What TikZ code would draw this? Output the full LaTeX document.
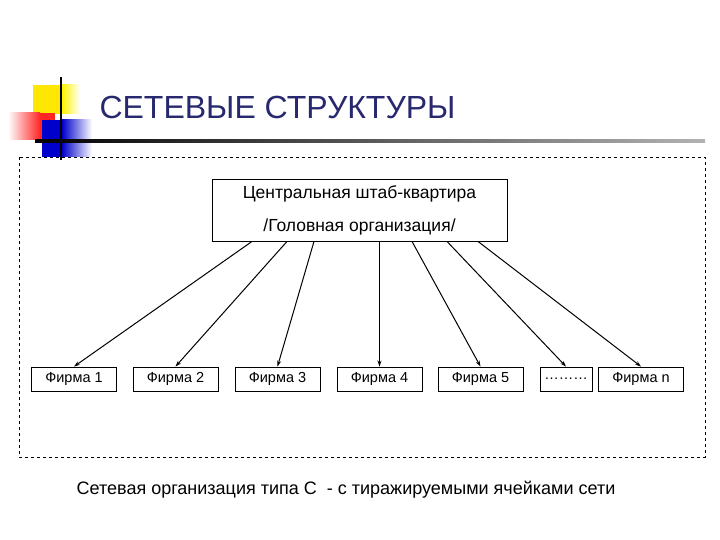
\documentclass[tikz,border=0pt]{standalone}
\usepackage{fontspec}
\setmainfont{Liberation Sans}
\usetikzlibrary{arrows.meta}
\definecolor{navy}{RGB}{40,40,110}
\begin{document}
\begin{tikzpicture}[x=1pt,y=-1pt,
  firm/.style={draw,line width=0.9pt,minimum width=85pt,minimum height=24pt,inner sep=0pt,font=\fontsize{14.5}{16}\selectfont},
  arr/.style={-{Stealth[length=6pt,width=4pt]},line width=1pt}]
\useasboundingbox (0,0) rectangle (720,540);
% logo
\fill[yellow!90!orange] (33,85) rectangle (62,114);
\shade[left color=yellow!90!orange,right color=white] (62,85) rectangle (80,114);
\shade[left color=white,right color=red!85] (8,113) rectangle (40,140);
\fill[red!85] (40,113) rectangle (55,140);
\fill[blue!80!black] (42,120) rectangle (62,157);
\shade[left color=blue!80!black,right color=white] (62,120) rectangle (92,157);
\draw[line width=2.5pt] (61,77) -- (61,160);
\shade[left color=black,right color=gray!60] (35,140) rectangle (705,142.5);
\node[anchor=west,text=navy,font=\fontsize{32}{38}\selectfont] (title) at (96,107) {СЕТЕВЫЕ СТРУКТУРЫ};
\draw[dashed,line width=0.8pt] (19,157) rectangle (705,457);
\node[draw,line width=0.9pt,minimum width=295pt,minimum height=62pt,align=center,font=\fontsize{17.5}{33}\selectfont] (hq) at (359.5,210) {Центральная штаб-квартира\\/Головная организация/};
\node[firm] (f1) at (74,379) {Фирма 1};
\node[firm] (f2) at (175.5,379) {Фирма 2};
\node[firm] (f3) at (277.5,379) {Фирма 3};
\node[firm] (f4) at (379.5,379) {Фирма 4};
\node[firm] (f5) at (480.5,379) {Фирма 5};
\node[firm,minimum width=52pt] (f6) at (566,379) {………};
\node[firm] (f7) at (641,379) {Фирма n};
\foreach \s/\t in {252/f1,287/f2,314/f3,379.5/f4,412/f5,447/f6,478/f7}
  \draw[arr] (hq.south -| \s,0) -- (\t.north);
\node[font=\fontsize{18}{22}\selectfont] (cap) at (346,490) {Сетевая организация типа С \ - с тиражируемыми ячейками сети};
\end{tikzpicture}
\end{document}
